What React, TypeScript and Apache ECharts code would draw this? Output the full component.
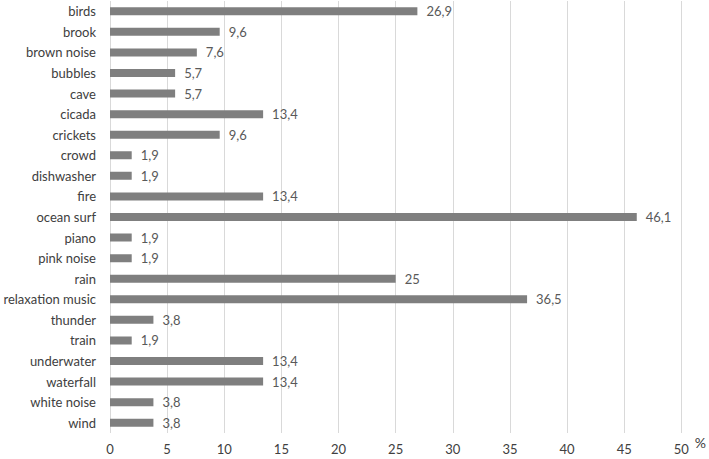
import React, { useEffect, useRef } from "react";
import * as echarts from "echarts";

const categories = [
  "birds", "brook", "brown noise", "bubbles", "cave", "cicada", "crickets",
  "crowd", "dishwasher", "fire", "ocean surf", "piano", "pink noise", "rain",
  "relaxation music", "thunder", "train", "underwater", "waterfall",
  "white noise", "wind",
];
const values = [
  26.9, 9.6, 7.6, 5.7, 5.7, 13.4, 9.6, 1.9, 1.9, 13.4, 46.1, 1.9, 1.9, 25,
  36.5, 3.8, 1.9, 13.4, 13.4, 3.8, 3.8,
];
const xTicks = [0, 5, 10, 15, 20, 25, 30, 35, 40, 45, 50];

const FONT = "Lato, 'Open Sans', sans-serif";

export default function App() {
  const ref = useRef<HTMLDivElement>(null);
  useEffect(() => {
    document.body.style.margin = "0";
    const chart = echarts.init(ref.current!, null, { renderer: "svg" });
    chart.setOption({
      animation: false,
      backgroundColor: "#ffffff",
      grid: { left: 110, right: 24, top: 1, bottom: 26, containLabel: false },
      xAxis: {
        type: "value",
        min: xTicks[0],
        max: xTicks[xTicks.length - 1],
        interval: 5,
        name: "%",
        nameLocation: "end",
        nameGap: 5,
        nameTextStyle: { color: "#404040", fontSize: 14, fontFamily: FONT, verticalAlign: "top", padding: [2, 0, 0, 0] },
        axisLine: { show: false },
        axisTick: { show: false },
        axisLabel: { color: "#404040", fontSize: 13, fontFamily: FONT, margin: 9 },
        splitLine: { show: true, lineStyle: { color: "#d9d9d9", width: 1 } },
      },
      yAxis: {
        type: "category",
        data: categories,
        inverse: true,
        axisLine: { show: false },
        axisTick: { show: false },
        axisLabel: { color: "#404040", fontSize: 13, fontFamily: FONT, margin: 14 },
      },
      series: [
        {
          type: "bar",
          data: values,
          barWidth: 8,
          itemStyle: { color: "#7f7f7f" },
          label: {
            show: true,
            position: "right",
            distance: 9,
            color: "#595959",
            fontSize: 13,
            fontFamily: FONT,
            formatter: (p: any) => String(p.value).replace(".", ","),
          },
        },
      ],
    });
    return () => chart.dispose();
  }, []);
  return <div ref={ref} style={{ width: 709, height: 459 }} />;
}
